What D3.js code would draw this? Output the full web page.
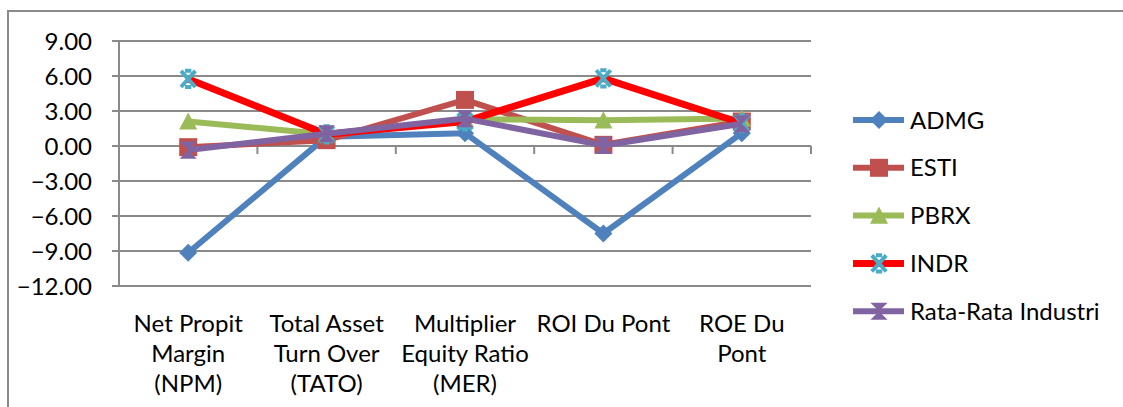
<!DOCTYPE html>
<html>
<head>
<meta charset="utf-8">
<script src="https://cdn.jsdelivr.net/npm/d3@7"></script>
<style>
  body { margin: 0; background: #fff; }
  text { font-family: Lato, "Liberation Sans", sans-serif; fill: #000; }
</style>
</head>
<body>
<div class="linechart"></div>
<script>
// category labels, one array of lines per category
const categories = ["NPM", "TATO", "MER", "ROI", "ROE"];
const categoryLabels = [
    ["Net Propit", "Margin", "(NPM)"],
    ["Total Asset", "Turn Over", "(TATO)"],
    ["Multiplier", "Equity Ratio", "(MER)"],
    ["ROI Du Pont"],
    ["ROE Du", "Pont"]
];
const yTicks = [9, 6, 3, 0, -3, -6, -9, -12];

const seriesNames = ["ADMG", "ESTI", "PBRX", "INDR", "Rata-Rata Industri"];
const admg = [-9.15, 0.8, 1.1, -7.5, 1.1];
const esti = [-0.1, 0.5, 3.95, 0.1, 2.1];
const pbrx = [2.1, 1.0, 2.3, 2.2, 2.35];
const indr = [5.75, 1.0, 2.1, 5.8, 1.95];
const rata = [-0.35, 1.05, 2.35, 0.05, 1.9];

const draw = () => {
    const W = 1123, H = 407;
    const lineColors = ["#4F81BD", "#C0504D", "#9BBB59", "#FF0000", "#8064A2"];
    const markColors = ["#4F81BD", "#C0504D", "#9BBB59", "#4BACC6", "#8064A2"];
    const shapes = ["diamond", "square", "triangle", "star", "hourglass"];
    const values = [admg, esti, pbrx, indr, rata];

    let svg = d3.select('.linechart')
                .append('svg')
                .attr('width', W)
                .attr('height', H);

    // chart frame (partly off-canvas)
    svg.append("path")
        .attr("d", "M8,407 L8,11 L1123,11")
        .attr("fill", "none")
        .attr("stroke", "#8a8a8a")
        .attr("stroke-width", 2);

    const plotLeft = 119, plotRight = 811;
    let xScale = d3.scaleBand()
            .domain(categories)
            .range([plotLeft, plotRight]);
    let yScale = d3.scaleLinear()
            .domain([-12, 9])
            .range([286, 41]);

    // gridlines + y ticks
    svg.append("g")
        .selectAll("line")
        .data(yTicks)
        .enter()
        .append("line")
        .attr("x1", plotLeft - 7)
        .attr("x2", plotRight)
        .attr("y1", d => yScale(d))
        .attr("y2", d => yScale(d))
        .attr("stroke", "#8a8a8a")
        .attr("stroke-width", 2);

    svg.append("g")
        .selectAll("text")
        .data(yTicks)
        .enter()
        .append("text")
        .attr("x", plotLeft - 27)
        .attr("y", d => yScale(d))
        .attr("dy", "0.36em")
        .attr("text-anchor", "end")
        .style("font-size", "24px")
        .text(d => d3.format(".2f")(d));

    // y axis line
    svg.append("line")
        .attr("x1", plotLeft).attr("x2", plotLeft)
        .attr("y1", yScale(9)).attr("y2", yScale(-12))
        .attr("stroke", "#8a8a8a")
        .attr("stroke-width", 2);

    // x tick marks at category boundaries on the zero line
    const bounds = categories.map(c => xScale(c)).concat([plotRight]);
    svg.append("g")
        .selectAll("line")
        .data(bounds)
        .enter()
        .append("line")
        .attr("x1", d => d).attr("x2", d => d)
        .attr("y1", yScale(0)).attr("y2", yScale(0) + 8)
        .attr("stroke", "#8a8a8a")
        .attr("stroke-width", 2);

    // category labels
    categories.forEach(function(c, i){
        let t = svg.append("text")
            .attr("text-anchor", "middle")
            .attr("x", xScale(c) + xScale.bandwidth() / 2)
            .attr("y", 332)
            .style("font-size", "24px");
        categoryLabels[i].forEach(function(line, j){
            t.append("tspan")
                .attr("x", xScale(c) + xScale.bandwidth() / 2)
                .attr("dy", j === 0 ? 0 : 30)
                .text(line);
        });
    });

    // marker paths
    function markerPath(shape, s){
        if(shape === "diamond") return `M0,${-s}L${s},0L0,${s}L${-s},0Z`;
        if(shape === "square") return `M${-s},${-s}h${s*2}v${s*2}h${-s*2}Z`;
        if(shape === "triangle") return `M0,${-s}L${s},${s*0.9}L${-s},${s*0.9}Z`;
        if(shape === "hourglass") return `M${-s*0.95},${-s*0.95}L${s*0.95},${-s*0.95}L${-s*0.95},${s*0.95}L${s*0.95},${s*0.95}Z`;
        // star: X with short caps
        return `M${-s*0.8},${-s*0.9}L${s*0.8},${s*0.9}M${s*0.8},${-s*0.9}L${-s*0.8},${s*0.9}M${-s*0.35},${-s*0.9}h${s*0.7}M${-s*0.35},${s*0.9}h${s*0.7}`;
    }

    function drawMarker(g, shape, color, x, y, s){
        let p = g.append("path")
            .attr("transform", `translate(${x},${y})`)
            .attr("d", markerPath(shape, s));
        if(shape === "star"){
            p.attr("fill", "none").attr("stroke", color).attr("stroke-width", 4);
        } else {
            p.attr("fill", color);
        }
    }

    // series
    const line = d3.line()
        .x((d, i) => xScale(categories[i]) + xScale.bandwidth() / 2)
        .y(d => yScale(d));

    values.forEach(function(vals, k){
        let g = svg.append("g");
        g.append("path")
            .datum(vals)
            .attr("d", line)
            .attr("fill", "none")
            .attr("stroke", lineColors[k])
            .attr("stroke-width", k === 3 ? 7 : 6)
            .attr("stroke-linejoin", "round");
        vals.forEach(function(v, i){
            drawMarker(g, shapes[k], markColors[k],
                xScale(categories[i]) + xScale.bandwidth() / 2, yScale(v), 9);
        });
    });

    // legend
    seriesNames.forEach(function(name, k){
        const ly = 120 + k * 47.8;
        let g = svg.append("g");
        g.append("line")
            .attr("x1", 853).attr("x2", 904)
            .attr("y1", ly).attr("y2", ly)
            .attr("stroke", lineColors[k])
            .attr("stroke-width", k === 3 ? 7 : 6);
        drawMarker(g, shapes[k], markColors[k], 879, ly, 9);
        g.append("text")
            .attr("x", 910)
            .attr("y", ly)
            .attr("dy", "0.36em")
            .style("font-size", "24px")
            .text(name);
    });
};

draw();
</script>
</body>
</html>
